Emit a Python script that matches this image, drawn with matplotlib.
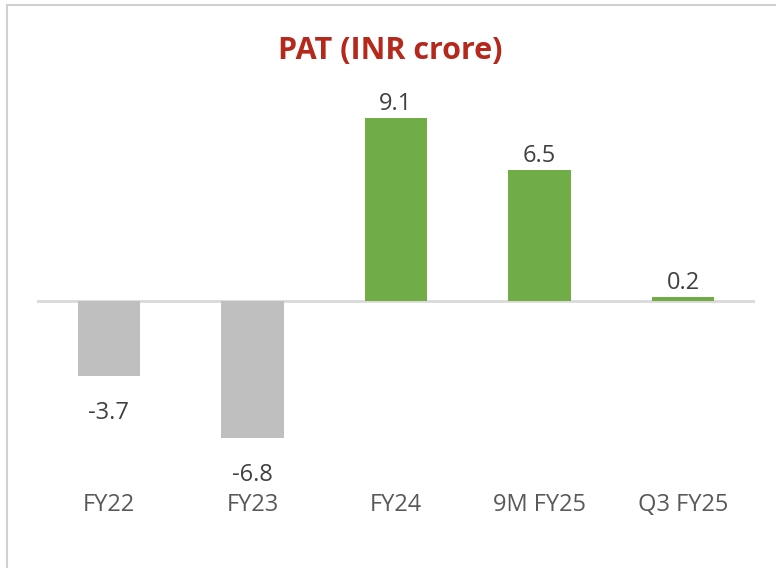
import matplotlib
matplotlib.use("Agg")
import matplotlib.pyplot as plt
from matplotlib.patches import Rectangle

categories = ["FY22", "FY23", "FY24", "9M FY25", "Q3 FY25"]
values = [-3.7, -6.8, 9.1, 6.5, 0.2]
labels = ["-3.7", "-6.8", "9.1", "6.5", "0.2"]

GREEN = "#70AD47"
GREY = "#BFBFBF"
TEXT = "#595959"

plt.rcParams['font.family'] = ['Open Sans', 'DejaVu Sans']

fig = plt.figure(figsize=(7.76, 5.68), dpi=100)
fig.patch.set_facecolor("white")

# border (left/top visible)
fig.add_artist(Rectangle((7/776, -0.05), 1.2, 1 - 5/568 + 0.05, transform=fig.transFigure,
                         fill=False, edgecolor="#D0D0D0", linewidth=1.5))

ax = fig.add_axes([37/776, 1 - 462/568, 718/776, 362/568])
colors = [GREEN if v >= 0 else GREY for v in values]
x = list(range(len(categories)))
ax.bar(x, values, width=0.435, color=colors, zorder=2)
ax.axhline(0, color="#D9D9D9", linewidth=2, zorder=1)

ax.set_xlim(-0.5, len(categories) - 0.5)
ax.set_ylim(-8, 10)
for s in ax.spines.values():
    s.set_visible(False)
ax.set_yticks([])
ax.set_xticks(x)
ax.set_xticklabels(categories, fontsize=17, color=TEXT)
ax.tick_params(axis="x", length=0, pad=22)

for xi, v, lab in zip(x, values, labels):
    if v >= 0:
        ax.annotate(lab, (xi, v), xytext=(0, 1.5), textcoords="offset points",
                    ha="center", va="bottom", fontsize=17, color="#404040")
    else:
        ax.annotate(lab, (xi, v), xytext=(0, -18), textcoords="offset points",
                    ha="center", va="top", fontsize=17, color="#404040")

fig.text(0.503, 1 - 51/568, "PAT (INR crore)", ha="center", va="center",
         fontsize=22, fontweight="bold", color="#B5281C")

fig.savefig("out.png", dpi=100)
